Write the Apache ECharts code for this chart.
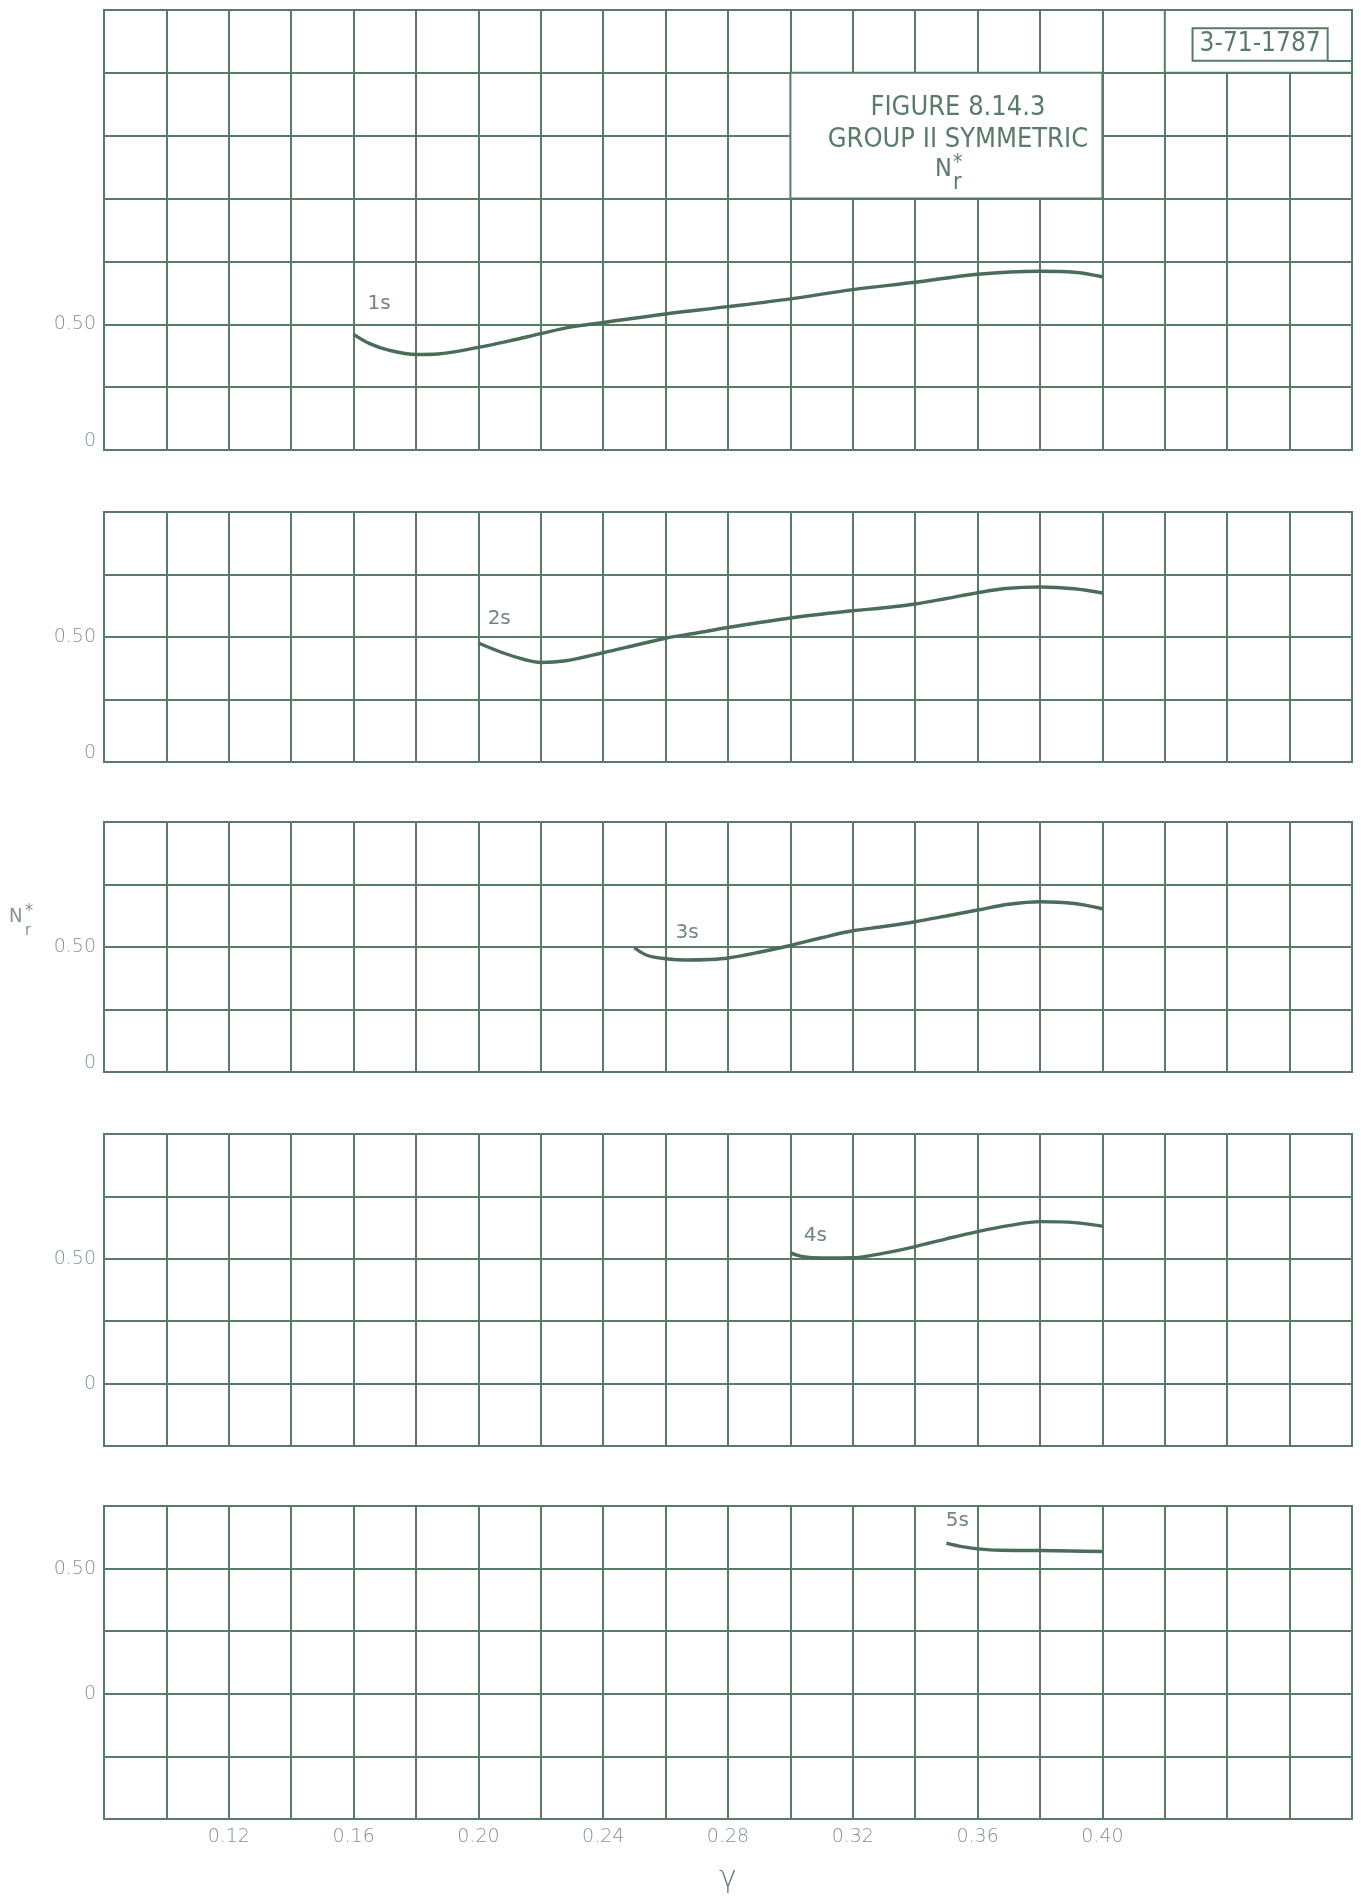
<!DOCTYPE html>
<html>
<head>
<meta charset="utf-8">
<script src="https://cdn.jsdelivr.net/npm/echarts@6.0.0/dist/echarts.min.js"></script>
<style>
  html, body { margin: 0; padding: 0; background: #ffffff; }
  #chart { width: 1361px; height: 1898px; }
</style>
</head>
<body>
<div id="chart"></div>
<script>
// Group II symmetric modes: N_r* against gamma, one curve per mode
const modeNames = ['1s', '2s', '3s', '4s', '5s'];

const gamma1s = [0.160, 0.165, 0.171, 0.180, 0.187, 0.200, 0.210, 0.220, 0.229, 0.240, 0.260, 0.280, 0.300, 0.320, 0.340, 0.360, 0.380, 0.391, 0.400];
const nr1s    = [0.460, 0.424, 0.398, 0.380, 0.382, 0.408, 0.434, 0.463, 0.488, 0.507, 0.541, 0.570, 0.601, 0.638, 0.667, 0.699, 0.711, 0.707, 0.689];

const gamma2s = [0.200, 0.208, 0.215, 0.220, 0.228, 0.240, 0.251, 0.260, 0.270, 0.280, 0.300, 0.320, 0.331, 0.340, 0.350, 0.360, 0.369, 0.380, 0.391, 0.400];
const nr2s    = [0.476, 0.436, 0.409, 0.398, 0.405, 0.437, 0.469, 0.495, 0.516, 0.538, 0.576, 0.605, 0.618, 0.632, 0.654, 0.677, 0.694, 0.700, 0.693, 0.676];

const gamma3s = [0.250, 0.254, 0.260, 0.267, 0.274, 0.280, 0.290, 0.300, 0.310, 0.320, 0.330, 0.340, 0.350, 0.360, 0.370, 0.380, 0.391, 0.400];
const nr3s    = [0.497, 0.467, 0.453, 0.448, 0.450, 0.456, 0.479, 0.506, 0.537, 0.565, 0.582, 0.601, 0.624, 0.648, 0.671, 0.681, 0.674, 0.653];

const gamma4s = [0.300, 0.304, 0.310, 0.320, 0.330, 0.340, 0.350, 0.360, 0.370, 0.380, 0.389, 0.400];
const nr4s    = [0.524, 0.509, 0.503, 0.504, 0.523, 0.549, 0.580, 0.609, 0.633, 0.649, 0.647, 0.631];

const gamma5s = [0.350, 0.355, 0.360, 0.367, 0.380, 0.390, 0.400];
const nr5s    = [0.602, 0.588, 0.579, 0.573, 0.572, 0.570, 0.568];

// tick labels
const xTickLabels = ['0.12', '0.16', '0.20', '0.24', '0.28', '0.32', '0.36', '0.40'];
const yTickLabels = ['0', '0.50'];

// axis ranges of the five stacked panels
const yMins = [0, 0, 0, -0.25, -0.5];
const yMaxs = [1.75, 1, 1, 1, 0.75];

// ---- layout and styling ----
const panelBoxes = [
  { top: 10,   height: 440 },
  { top: 512,  height: 250 },
  { top: 822,  height: 250 },
  { top: 1134, height: 312 },
  { top: 1506, height: 313 }
];
// where each mode name is written (data units of its own panel)
const tagAnchors = [[0.1643, 0.581], [0.2028, 0.572], [0.263, 0.558], [0.3041, 0.593], [0.3496, 0.690]];

const GRID_COLOR = '#587b66';
const CURVE_COLOR = '#4b6c58';
const TICK_COLOR = '#82938b';
const TAG_COLOR = '#72877b';
const TITLE_COLOR = '#5b7b69';
const LIGHT_FONT = '"DejaVu Sans", sans-serif';
const NARROW_FONT = '"DejaVu Sans Condensed", "Liberation Sans Narrow", sans-serif';

const curves = [
  [gamma1s, nr1s], [gamma2s, nr2s], [gamma3s, nr3s], [gamma4s, nr4s], [gamma5s, nr5s]
];

const near = (a, b) => Math.abs(a - b) < 1e-6;

const grids = panelBoxes.map(b => ({
  left: 104, width: 1248, top: b.top, height: b.height,
  show: true, borderColor: GRID_COLOR, borderWidth: 2, backgroundColor: 'transparent'
}));

const xAxes = panelBoxes.map((b, i) => {
  const bottom = i === panelBoxes.length - 1;
  return {
    type: 'value', gridIndex: i, min: 0.08, max: 0.48, interval: 0.02,
    axisLine: { show: false }, axisTick: { show: false },
    splitLine: { show: true, lineStyle: { color: GRID_COLOR, width: 2 } },
    axisLabel: {
      show: bottom, margin: 9, color: TICK_COLOR, fontSize: 19, fontWeight: 200,
      fontFamily: LIGHT_FONT,
      formatter: v => { const s = v.toFixed(2); return xTickLabels.includes(s) ? s : ''; }
    },
    name: bottom ? 'γ' : '', nameLocation: 'middle', nameGap: 45,
    nameTextStyle: { color: TITLE_COLOR, fontSize: 30, fontFamily: LIGHT_FONT, fontWeight: 200 }
  };
});

const yAxes = panelBoxes.map((b, i) => {
  const zeroAtFloor = near(yMins[i], 0);
  return {
    type: 'value', gridIndex: i, min: yMins[i], max: yMaxs[i], interval: 0.25,
    axisLine: { show: false }, axisTick: { show: false },
    splitLine: { show: true, lineStyle: { color: GRID_COLOR, width: 2 } },
    axisLabel: {
      margin: 8, color: TICK_COLOR, fontSize: 19, fontWeight: 200, fontFamily: LIGHT_FONT,
      formatter: v => {
        if (near(v, 0.5)) return yTickLabels[1];
        if (near(v, 0)) return zeroAtFloor ? '{lift|' + yTickLabels[0] + '}' : yTickLabels[0];
        return '';
      },
      rich: {
        lift: { color: TICK_COLOR, fontSize: 19, fontWeight: 200, fontFamily: LIGHT_FONT, padding: [0, 0, 18, 0] }
      }
    }
  };
});

const whiteCell = { color: '#ffffff', borderColor: GRID_COLOR, borderWidth: 2 };

const series = curves.map((c, i) => {
  const s = {
    type: 'line', name: modeNames[i], xAxisIndex: i, yAxisIndex: i,
    data: c[0].map((g, k) => [g, c[1][k]]),
    showSymbol: false, smooth: 0.35, z: 3,
    lineStyle: { color: CURVE_COLOR, width: 3.4 },
    markPoint: {
      silent: true, symbol: 'circle', symbolSize: 1,
      itemStyle: { color: 'rgba(0,0,0,0)' },
      label: {
        show: true, position: 'right', distance: 0, formatter: modeNames[i],
        color: TAG_COLOR, fontSize: 20, fontFamily: LIGHT_FONT, fontWeight: 'normal'
      },
      data: [{ coord: tagAnchors[i] }]
    }
  };
  if (i === 0) {
    // blank cells of the top panel that carry the figure caption and the plate number
    s.markArea = {
      silent: true,
      data: [
        [{ coord: [0.30, 1.5], itemStyle: whiteCell }, { coord: [0.40, 1.0] }],
        [{ coord: [0.42, 1.75], itemStyle: whiteCell }, { coord: [0.48, 1.5] }],
        [{ coord: [0.4289, 1.677], itemStyle: { color: 'rgba(0,0,0,0)', borderColor: GRID_COLOR, borderWidth: 2 } },
         { coord: [0.4722, 1.548] }]
      ]
    };
    s.markLine = {
      silent: true, symbol: 'none', label: { show: false },
      lineStyle: { color: GRID_COLOR, width: 2, type: 'solid' },
      data: [[{ coord: [0.4722, 1.548] }, { coord: [0.48, 1.548] }]]
    };
  }
  return s;
});

const chart = echarts.init(document.getElementById('chart'), null, { renderer: 'canvas' });
chart.setOption({
  animation: false,
  backgroundColor: '#ffffff',
  grid: grids, xAxis: xAxes, yAxis: yAxes, series: series
});

// caption texts, placed from the top panel's own coordinates
function txt(x, y, text, size, align, vAlign, family, color, weight) {
  return {
    type: 'text', x: x, y: y, z: 50, silent: true,
    style: {
      text: text, fill: color || TITLE_COLOR, fontSize: size, fontFamily: family || NARROW_FONT,
      fontWeight: weight || 'normal',
      align: align, textAlign: align, verticalAlign: vAlign, textVerticalAlign: vAlign
    }
  };
}
const t1 = chart.convertToPixel({ gridIndex: 0 }, [0.3537, 1.372]);
const t2 = chart.convertToPixel({ gridIndex: 0 }, [0.3537, 1.246]);
const plate = chart.convertToPixel({ gridIndex: 0 }, [0.45055, 1.6125]);
const yName = chart.convertToPixel({ gridIndex: 2 }, [0.08, 0.62]);

chart.setOption({
  graphic: [
    txt(t1[0], t1[1] + 3, 'FIGURE 8.14.3', 27, 'center', 'middle'),
    txt(t2[0], t2[1] + 3, 'GROUP II SYMMETRIC', 27, 'center', 'middle'),
    txt(t2[0] - 6, t2[1] + 33, 'N', 25, 'right', 'middle'),
    txt(t2[0] - 5, t2[1] + 46, 'r', 23, 'left', 'middle'),
    txt(t2[0] - 5, t2[1] + 16, '*', 21, 'left', 'top'),
    txt(plate[0], plate[1], '3-71-1787', 26, 'center', 'middle'),
    txt(9, yName[1] + 10, 'N', 20, 'left', 'bottom', NARROW_FONT, TICK_COLOR),
    txt(25, yName[1] + 6, 'r', 16, 'left', 'top', NARROW_FONT, TICK_COLOR),
    txt(25, yName[1] - 15, '*', 18, 'left', 'top', NARROW_FONT, TICK_COLOR)
  ]
});
</script>
</body>
</html>
